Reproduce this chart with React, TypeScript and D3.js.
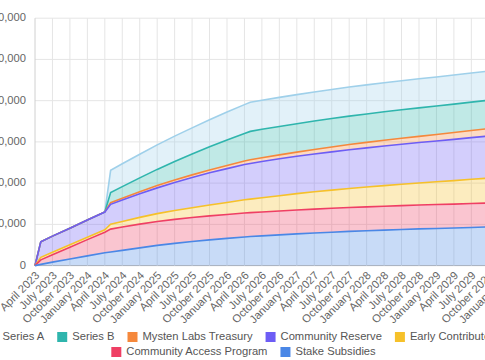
import React, { useEffect, useRef } from "react";
import * as d3 from "d3";

// month index from April 2023
const months = [0, 1, 3, 6, 9, 12, 13, 15, 18, 21, 24, 27, 30, 33, 36, 37, 39, 42, 45, 48, 51, 54, 57, 60, 63, 66, 69, 72, 75, 78, 81];

// values in millions of SUI
const stakeSubsidies = [0, 30, 85, 160, 235, 310, 330, 370, 430, 490, 540, 585, 625, 660, 695, 705, 720, 745, 770, 790, 810, 830, 845, 860, 875, 890, 900, 912, 925, 937, 945];
const communityAccessProgram = [0, 110, 180, 285, 395, 500, 555, 565, 575, 580, 580, 580, 580, 580, 580, 580, 580, 580, 580, 580, 580, 580, 580, 580, 580, 580, 580, 580, 580, 580, 580];
const earlyContributors = [0, 60, 60, 60, 60, 60, 120, 135, 165, 190, 215, 240, 265, 292, 320, 328, 345, 370, 395, 420, 440, 460, 480, 500, 518, 535, 552, 570, 588, 605, 620];
const communityReserve = [0, 380, 390, 400, 415, 430, 480, 520, 570, 625, 680, 730, 780, 820, 855, 865, 880, 895, 905, 915, 928, 940, 950, 960, 970, 980, 990, 1000, 1010, 1020, 1030];
const mystenLabsTreasury = [0, 0, 0, 0, 0, 0, 40, 43, 50, 55, 60, 65, 70, 78, 85, 87, 90, 95, 102, 110, 118, 125, 133, 140, 145, 150, 158, 165, 172, 180, 185];
const seriesB = [0, 0, 0, 0, 0, 0, 245, 282, 338, 393, 449, 504, 560, 616, 671, 690, 690, 690, 690, 690, 690, 690, 690, 690, 690, 690, 690, 690, 690, 690, 690];
const seriesA = [0, 0, 0, 0, 0, 0, 540, 554, 574, 595, 616, 636, 657, 678, 698, 705, 705, 705, 705, 705, 705, 705, 705, 705, 705, 705, 705, 705, 705, 705, 705];

const seriesNames = ["Series A", "Series B", "Mysten Labs Treasury", "Community Reserve", "Early Contributors", "Community Access Program", "Stake Subsidies"];
const seriesColors = ["#9fd0ea", "#2fb5ad", "#f5883c", "#6d5df5", "#f6c12a", "#ef3f64", "#4a87e6"];
const seriesData = [seriesA, seriesB, mystenLabsTreasury, communityReserve, earlyContributors, communityAccessProgram, stakeSubsidies];

const xTickLabels = [
  "April 2023", "July 2023", "October 2023", "January 2024", "April 2024", "July 2024", "October 2024",
  "January 2025", "April 2025", "July 2025", "October 2025", "January 2026", "April 2026", "July 2026",
  "October 2026", "January 2027", "April 2027", "July 2027", "October 2027", "January 2028", "April 2028",
  "July 2028", "October 2028", "January 2029", "April 2029", "July 2029", "October 2029", "January 2030",
];
const yTicks = [0, 1000, 2000, 3000, 4000, 5000, 6000];

const W = 485;
const H = 360;
const FONT = "'Liberation Sans', Arial, Helvetica, sans-serif";

export default function App() {
  const ref = useRef<SVGSVGElement | null>(null);

  useEffect(() => {
    const svg = d3.select(ref.current);
    svg.selectAll("*").remove();

    const x = d3.scaleLinear().domain([0, 81]).range([35, 35 + 81 * 5.818]);
    const y = d3.scaleLinear().domain([0, 6000]).range([265.6, 18.2]);

    const g = svg.append("g");

    // grid
    yTicks.forEach((t) => {
      g.append("line").attr("x1", 35).attr("x2", W).attr("y1", y(t)).attr("y2", y(t))
        .attr("stroke", t === 0 ? "#b5b5b5" : "#e5e5e5").attr("stroke-width", 1);
      g.append("text").attr("x", 26).attr("y", y(t)).attr("text-anchor", "end")
        .attr("dominant-baseline", "middle").attr("font-family", FONT).attr("font-size", 11.2)
        .attr("fill", "#666").text(d3.format(",")(t * 1e6));
    });
    xTickLabels.forEach((lab, i) => {
      const xv = x(i * 3);
      g.append("line").attr("x1", xv).attr("x2", xv).attr("y1", 18.2).attr("y2", 265.6)
        .attr("stroke", i === 0 ? "#d0d0d0" : "#e5e5e5").attr("stroke-width", 1);
      g.append("text").attr("transform", `translate(${xv + 3},${274}) rotate(-45)`)
        .attr("text-anchor", "end").attr("dominant-baseline", "middle")
        .attr("font-family", FONT).attr("font-size", 11.2).attr("fill", "#666").text(lab);
    });

    // stack: bottom = Stake Subsidies
    const order = [6, 5, 4, 3, 2, 1, 0];
    const rows = months.map((m, i) => {
      const r: any = { m };
      order.forEach((si) => (r[seriesNames[si]] = seriesData[si][i]));
      return r;
    });
    const stack = d3.stack<any>().keys(order.map((si) => seriesNames[si]));
    const layers = stack(rows);

    const area = d3.area<any>().x((d) => x(d.data.m)).y0((d) => y(d[0])).y1((d) => y(d[1]));
    const line = d3.line<any>().x((d) => x(d.data.m)).y((d) => y(d[1]));

    layers.forEach((layer, li) => {
      const si = order[li];
      g.append("path").attr("d", area(layer) as string).attr("fill", seriesColors[si]).attr("fill-opacity", 0.3);
    });
    // draw lines top series first so lower ones sit on top
    [...layers].reverse().forEach((layer) => {
      const si = seriesNames.indexOf(layer.key as string);
      g.append("path").attr("d", line(layer) as string).attr("fill", "none")
        .attr("stroke", seriesColors[si]).attr("stroke-width", 1.6);
    });

    // legend
    const rowsLegend = [[0, 1, 2, 3, 4], [5, 6]];
    const rowY = [337, 352];
    const box = 10;
    const gapText = 15;
    const gapItem = 13;
    rowsLegend.forEach((items, ri) => {
      const lg = svg.append("g");
      let cx = 0;
      items.forEach((si) => {
        lg.append("rect").attr("x", cx).attr("y", rowY[ri] - box / 2).attr("width", box).attr("height", box)
          .attr("fill", seriesColors[si]);
        const t = lg.append("text").attr("x", cx + gapText).attr("y", rowY[ri]).attr("dominant-baseline", "middle")
          .attr("font-family", FONT).attr("font-size", 11.2).attr("fill", "#555").text(seriesNames[si]);
        const w = (t.node() as SVGTextElement).getComputedTextLength();
        cx += gapText + w + gapItem;
      });
      const total = cx - gapItem;
      lg.attr("transform", `translate(${243.5 - total / 2},0)`);
    });
  }, []);

  return (
    <div style={{ position: "absolute", left: 0, top: 0, width: W, height: H, background: "#fff" }}>
      <svg ref={ref} width={W} height={H} style={{ display: "block" }} />
    </div>
  );
}
